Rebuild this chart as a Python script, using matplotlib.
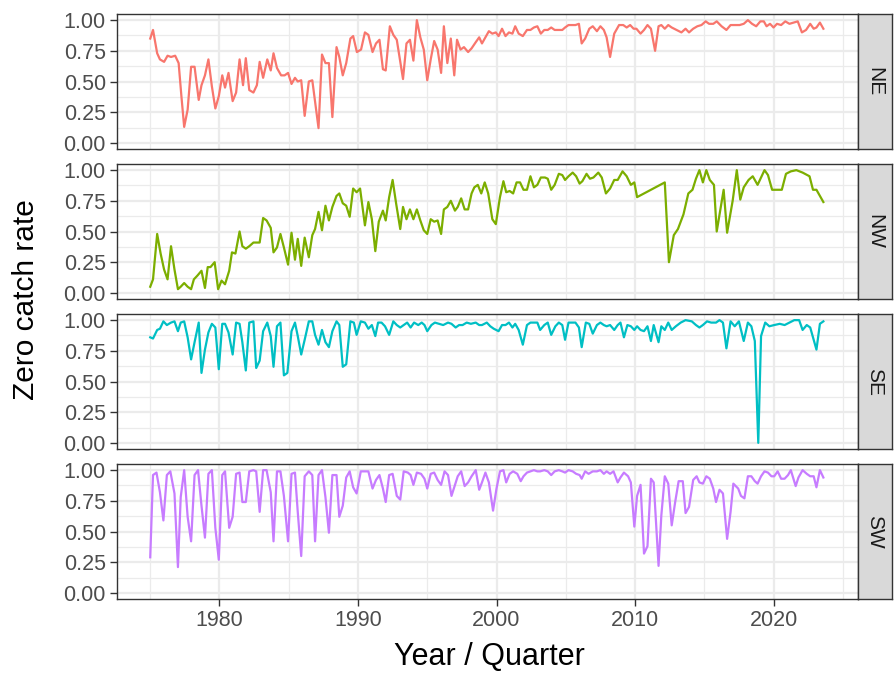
import matplotlib
matplotlib.use("Agg")
import matplotlib.pyplot as plt
import numpy as np

plt.rcParams['font.family'] = ['Liberation Sans', 'DejaVu Sans']

# Zero catch rate per quarter, one pair of lists per region
ne_year = [1975.0, 1975.2, 1975.5, 1975.7, 1976.0, 1976.25, 1976.5, 1976.8, 1977.05, 1977.25,
           1977.45, 1977.7, 1977.95, 1978.2, 1978.5, 1978.7, 1978.95, 1979.2, 1979.45, 1979.7,
           1979.95, 1980.2, 1980.4, 1980.65, 1980.95, 1981.2, 1981.45, 1981.7, 1981.9, 1982.15,
           1982.45, 1982.7, 1982.9, 1983.15, 1983.45, 1983.7, 1983.9, 1984.15, 1984.45, 1984.7,
           1984.95, 1985.2, 1985.45, 1985.65, 1985.9, 1986.15, 1986.45, 1986.7, 1987.15, 1987.4,
           1987.65, 1987.9, 1988.15, 1988.45, 1988.65, 1988.9, 1989.15, 1989.45, 1989.65, 1989.92,
           1990.22, 1990.5, 1990.75, 1991.05, 1991.3, 1991.55, 1991.8, 1992.0, 1992.3, 1992.55,
           1992.8, 1993.25, 1993.5, 1993.75, 1994.0, 1994.25, 1994.5, 1994.75, 1995.0, 1995.25,
           1995.5, 1995.75, 1996.0, 1996.2, 1996.45, 1996.7, 1996.95, 1997.15, 1997.4, 1997.65,
           1997.95, 1998.2, 1998.5, 1998.75, 1998.95, 1999.2, 1999.45, 1999.7, 1999.95, 2000.15,
           2000.4, 2000.65, 2000.9, 2001.15, 2001.35, 2001.6, 2001.9, 2002.2, 2002.45, 2002.7,
           2002.95, 2003.2, 2003.45, 2003.7, 2003.95, 2004.2, 2004.5, 2004.75, 2004.95, 2005.2,
           2005.7, 2005.95, 2006.15, 2006.4, 2006.7, 2006.95, 2007.25, 2007.5, 2007.75, 2007.95,
           2008.2, 2008.5, 2008.85, 2009.15, 2009.4, 2009.65, 2009.9, 2010.1, 2010.4, 2010.65,
           2010.9, 2011.15, 2011.45, 2011.7, 2011.9, 2012.15, 2012.4, 2012.65, 2013.0, 2013.35,
           2013.65, 2013.9, 2014.2, 2014.5, 2014.8, 2015.1, 2015.35, 2015.65, 2015.9, 2016.25,
           2016.6, 2016.9, 2017.2, 2017.55, 2017.85, 2018.15, 2018.45, 2018.75, 2019.05, 2019.3,
           2019.5, 2019.75, 2020.0, 2020.25, 2020.55, 2020.85, 2021.15, 2021.45, 2021.75, 2022.05,
           2022.35, 2022.65, 2022.9, 2023.1, 2023.35, 2023.6]
ne_rate = [0.85, 0.92, 0.73, 0.68, 0.66, 0.71, 0.70, 0.71, 0.65, 0.38,
           0.13, 0.27, 0.62, 0.62, 0.35, 0.47, 0.55, 0.68, 0.46, 0.28,
           0.38, 0.55, 0.45, 0.57, 0.34, 0.41, 0.68, 0.47, 0.69, 0.43,
           0.41, 0.47, 0.66, 0.53, 0.68, 0.59, 0.73, 0.61, 0.55, 0.55,
           0.57, 0.48, 0.53, 0.50, 0.51, 0.22, 0.50, 0.51, 0.12, 0.72,
           0.65, 0.65, 0.21, 0.78, 0.70, 0.55, 0.65, 0.85, 0.87, 0.74,
           0.76, 0.90, 0.88, 0.74, 0.81, 0.84, 0.60, 0.59, 0.95, 0.88,
           0.84, 0.52, 0.81, 0.84, 0.67, 1.00, 0.86, 0.76, 0.51, 0.68,
           0.83, 0.76, 0.57, 0.95, 0.65, 0.85, 0.55, 0.84, 0.76, 0.78,
           0.74, 0.77, 0.82, 0.86, 0.81, 0.86, 0.91, 0.89, 0.90, 0.87,
           0.93, 0.87, 0.90, 0.89, 0.95, 0.89, 0.87, 0.92, 0.92, 0.94,
           0.95, 0.89, 0.92, 0.92, 0.94, 0.92, 0.92, 0.92, 0.94, 0.96,
           0.96, 0.97, 0.81, 0.85, 0.93, 0.95, 0.91, 0.95, 0.92, 0.86,
           0.70, 0.89, 0.96, 0.96, 0.94, 0.96, 0.93, 0.93, 0.89, 0.92,
           0.96, 0.93, 0.75, 0.95, 0.96, 0.93, 0.96, 0.94, 0.92, 0.90,
           0.93, 0.90, 0.93, 0.95, 0.96, 0.99, 0.97, 0.97, 0.99, 0.95,
           0.92, 0.96, 0.96, 0.96, 0.97, 1.00, 0.97, 0.95, 0.99, 0.99,
           0.95, 0.97, 0.94, 0.97, 0.96, 0.99, 0.97, 0.98, 0.99, 0.90,
           0.92, 0.97, 0.93, 0.94, 0.98, 0.93]

nw_year = [1975.0, 1975.2, 1975.5, 1975.75, 1976.0, 1976.25, 1976.5, 1976.75, 1977.0, 1977.2,
           1977.45, 1977.7, 1977.95, 1978.15, 1978.4, 1978.7, 1978.95, 1979.15, 1979.35, 1979.65,
           1979.9, 1980.15, 1980.4, 1980.7, 1980.9, 1981.15, 1981.45, 1981.65, 1981.9, 1982.15,
           1982.45, 1982.65, 1982.9, 1983.15, 1983.4, 1983.7, 1983.9, 1984.15, 1984.4, 1984.65,
           1984.95, 1985.2, 1985.45, 1985.65, 1985.9, 1986.15, 1986.45, 1986.7, 1986.9, 1987.15,
           1987.4, 1987.65, 1987.9, 1988.15, 1988.45, 1988.65, 1988.9, 1989.15, 1989.4, 1989.65,
           1989.9, 1990.15, 1990.5, 1990.75, 1991.0, 1991.25, 1991.5, 1991.8, 1992.0, 1992.25,
           1992.5, 1992.75, 1993.05, 1993.25, 1993.5, 1993.75, 1994.0, 1994.25, 1994.5, 1994.75,
           1995.0, 1995.25, 1995.5, 1995.75, 1996.0, 1996.2, 1996.45, 1996.7, 1997.0, 1997.2,
           1997.45, 1997.7, 1997.95, 1998.2, 1998.4, 1998.65, 1998.9, 1999.15, 1999.4, 1999.7,
           1999.95, 2000.25, 2000.5, 2000.7, 2000.95, 2001.2, 2001.45, 2001.7, 2001.95, 2002.2,
           2002.45, 2002.7, 2002.95, 2003.2, 2003.5, 2003.7, 2003.95, 2004.2, 2004.5, 2004.75,
           2004.95, 2005.2, 2005.5, 2005.75, 2006.0, 2006.2, 2006.5, 2006.75, 2007.0, 2007.35,
           2007.6, 2007.9, 2008.2, 2008.5, 2008.75, 2009.1, 2009.4, 2009.7, 2009.95, 2010.15,
           2012.15, 2012.45, 2012.8, 2013.1, 2013.5, 2013.85, 2014.15, 2014.4, 2014.65, 2014.9,
           2015.15, 2015.4, 2015.7, 2015.9, 2016.4, 2016.65, 2017.05, 2017.35, 2017.6, 2017.85,
           2018.2, 2018.5, 2018.85, 2019.35, 2019.6, 2019.9, 2020.6, 2020.9, 2021.25, 2021.65,
           2022.1, 2022.6, 2022.85, 2023.1, 2023.6]
nw_rate = [0.05, 0.11, 0.48, 0.32, 0.19, 0.11, 0.38, 0.19, 0.03, 0.05,
           0.08, 0.05, 0.03, 0.11, 0.14, 0.18, 0.04, 0.21, 0.21, 0.25,
           0.03, 0.10, 0.07, 0.18, 0.33, 0.32, 0.50, 0.38, 0.36, 0.38,
           0.41, 0.41, 0.41, 0.61, 0.59, 0.53, 0.33, 0.37, 0.48, 0.37,
           0.23, 0.49, 0.27, 0.44, 0.22, 0.45, 0.29, 0.47, 0.52, 0.66,
           0.51, 0.71, 0.59, 0.70, 0.79, 0.81, 0.73, 0.71, 0.62, 0.85,
           0.82, 0.85, 0.55, 0.74, 0.60, 0.34, 0.58, 0.67, 0.59, 0.78,
           0.92, 0.73, 0.52, 0.70, 0.60, 0.68, 0.60, 0.68, 0.59, 0.51,
           0.48, 0.60, 0.58, 0.59, 0.48, 0.68, 0.70, 0.75, 0.67, 0.70,
           0.77, 0.68, 0.68, 0.81, 0.86, 0.88, 0.81, 0.90, 0.81, 0.60,
           0.56, 0.78, 0.91, 0.82, 0.83, 0.81, 0.90, 0.90, 0.84, 0.84,
           0.95, 0.86, 0.88, 0.94, 0.94, 0.93, 0.84, 0.88, 0.97, 0.96,
           0.92, 0.95, 0.98, 0.95, 0.89, 0.91, 0.97, 0.93, 0.94, 0.98,
           0.94, 0.81, 0.85, 0.92, 0.92, 0.99, 0.95, 0.88, 0.90, 0.78,
           0.90, 0.25, 0.47, 0.52, 0.64, 0.81, 0.84, 0.93, 1.00, 0.90,
           1.00, 0.92, 0.88, 0.50, 0.84, 0.49, 0.75, 1.00, 0.76, 0.86,
           0.92, 0.95, 0.88, 1.00, 0.96, 0.84, 0.84, 0.97, 0.99, 1.00,
           0.98, 0.95, 0.84, 0.84, 0.74]

se_year = [1975.0, 1975.2, 1975.5, 1975.7, 1975.95, 1976.2, 1976.5, 1976.75, 1977.0, 1977.2,
           1977.45, 1977.7, 1977.95, 1978.2, 1978.5, 1978.7, 1978.95, 1979.2, 1979.45, 1979.7,
           1979.95, 1980.2, 1980.4, 1980.65, 1980.95, 1981.2, 1981.45, 1981.65, 1981.9, 1982.15,
           1982.45, 1982.65, 1982.9, 1983.15, 1983.45, 1983.7, 1983.9, 1984.15, 1984.4, 1984.65,
           1984.9, 1985.2, 1985.45, 1985.65, 1985.9, 1986.15, 1986.45, 1986.7, 1986.9, 1987.15,
           1987.4, 1987.65, 1987.9, 1988.15, 1988.45, 1988.65, 1988.9, 1989.15, 1989.45, 1989.7,
           1989.9, 1990.2, 1990.5, 1990.75, 1991.0, 1991.25, 1991.45, 1991.7, 1991.95, 1992.25,
           1992.55, 1992.8, 1993.05, 1993.3, 1993.55, 1993.8, 1994.05, 1994.35, 1994.6, 1994.8,
           1995.0, 1995.3, 1995.55, 1995.85, 1996.15, 1996.5, 1996.75, 1997.05, 1997.3, 1997.55,
           1997.85, 1998.15, 1998.5, 1998.75, 1998.95, 1999.3, 1999.55, 1999.8, 2000.15, 2000.4,
           2000.65, 2000.9, 2001.15, 2001.35, 2001.6, 2001.9, 2002.2, 2002.45, 2002.7, 2002.95,
           2003.15, 2003.45, 2003.7, 2003.95, 2004.25, 2004.5, 2004.75, 2004.95, 2005.2, 2005.45,
           2005.7, 2005.95, 2006.15, 2006.45, 2006.7, 2006.95, 2007.25, 2007.5, 2007.75, 2007.95,
           2008.2, 2008.5, 2008.75, 2008.95, 2009.2, 2009.45, 2009.7, 2009.95, 2010.15, 2010.4,
           2010.65, 2010.9, 2011.15, 2011.35, 2011.7, 2011.9, 2012.15, 2012.4, 2012.65, 2012.95,
           2013.3, 2013.65, 2014.1, 2014.4, 2014.65, 2014.9, 2015.2, 2015.5, 2015.85, 2016.1,
           2016.35, 2016.6, 2016.9, 2017.2, 2017.5, 2017.85, 2018.15, 2018.4, 2018.65, 2018.9,
           2019.1, 2019.4, 2019.7, 2020.05, 2020.45, 2020.8, 2021.15, 2021.5, 2021.85, 2022.1,
           2022.4, 2022.65, 2022.9, 2023.1, 2023.35, 2023.6]
se_rate = [0.86, 0.85, 0.92, 0.93, 0.99, 0.96, 0.98, 0.99, 0.91, 0.98,
           0.99, 0.86, 0.68, 0.82, 0.98, 0.57, 0.76, 0.90, 0.97, 0.94,
           0.60, 0.97, 0.97, 0.90, 0.72, 0.98, 0.97, 0.82, 0.59, 0.98,
           0.99, 0.61, 0.67, 0.91, 0.98, 0.87, 0.62, 0.95, 0.98, 0.55,
           0.57, 0.91, 0.98, 0.87, 0.72, 0.84, 0.99, 0.99, 0.88, 0.80,
           0.92, 0.82, 0.78, 0.91, 0.99, 0.96, 0.62, 0.64, 0.99, 0.98,
           0.88, 0.99, 0.98, 0.93, 0.96, 0.87, 0.98, 0.98, 0.95, 0.88,
           0.99, 0.96, 0.94, 0.96, 0.98, 0.94, 0.98, 0.96, 0.98, 0.96,
           0.91, 0.96, 0.98, 0.97, 0.96, 0.98, 0.97, 0.94, 0.96, 0.96,
           0.98, 0.97, 0.98, 0.96, 0.96, 0.98, 0.95, 0.93, 0.91, 0.96,
           0.96, 0.98, 0.94, 0.97, 0.92, 0.80, 0.96, 0.98, 0.98, 0.98,
           0.92, 0.96, 0.98, 0.88, 0.95, 0.98, 0.96, 0.84, 0.98, 0.98,
           0.98, 0.94, 0.78, 0.98, 0.97, 0.89, 0.96, 0.98, 0.96, 0.95,
           0.96, 0.92, 0.96, 0.98, 0.86, 0.96, 0.95, 0.92, 0.95, 0.92,
           0.91, 0.95, 0.83, 0.96, 0.82, 0.95, 0.92, 0.98, 0.92, 0.95,
           0.98, 1.00, 0.99, 0.96, 0.94, 0.96, 0.99, 0.98, 0.98, 1.00,
           0.98, 0.77, 0.99, 0.95, 0.99, 0.83, 0.98, 0.95, 0.83, 0.00,
           0.87, 0.98, 0.95, 0.96, 0.97, 0.96, 0.98, 1.00, 1.00, 0.92,
           0.96, 0.94, 0.84, 0.76, 0.97, 0.99]

sw_year = [1975.0, 1975.2, 1975.45, 1975.7, 1975.95, 1976.2, 1976.45, 1976.75, 1977.0, 1977.2,
           1977.45, 1977.7, 1977.95, 1978.2, 1978.45, 1978.7, 1978.95, 1979.2, 1979.45, 1979.7,
           1979.95, 1980.2, 1980.4, 1980.7, 1980.95, 1981.2, 1981.45, 1981.65, 1981.9, 1982.15,
           1982.45, 1982.65, 1982.9, 1983.15, 1983.4, 1983.7, 1983.9, 1984.15, 1984.4, 1984.65,
           1984.95, 1985.2, 1985.45, 1985.65, 1985.9, 1986.15, 1986.45, 1986.7, 1986.9, 1987.15,
           1987.4, 1987.65, 1987.9, 1988.15, 1988.45, 1988.65, 1988.9, 1989.15, 1989.4, 1989.65,
           1989.9, 1990.2, 1990.45, 1990.75, 1991.05, 1991.3, 1991.55, 1991.8, 1992.0, 1992.25,
           1992.5, 1992.8, 1993.05, 1993.3, 1993.6, 1993.8, 1994.0, 1994.25, 1994.55, 1994.8,
           1995.0, 1995.25, 1995.5, 1995.75, 1996.0, 1996.25, 1996.5, 1996.75, 1997.0, 1997.2,
           1997.45, 1997.7, 1997.95, 1998.2, 1998.5, 1998.75, 1998.95, 1999.2, 1999.45, 1999.75,
           2000.0, 2000.25, 2000.5, 2000.7, 2000.95, 2001.2, 2001.5, 2001.75, 2001.95, 2002.2,
           2002.45, 2002.7, 2002.95, 2003.15, 2003.45, 2003.7, 2003.95, 2004.2, 2004.5, 2004.75,
           2004.95, 2005.2, 2005.5, 2005.75, 2006.0, 2006.15, 2006.4, 2006.65, 2006.95, 2007.25,
           2007.5, 2007.75, 2007.95, 2008.2, 2008.45, 2008.75, 2008.95, 2009.2, 2009.5, 2009.7,
           2009.95, 2010.15, 2010.4, 2010.65, 2010.9, 2011.15, 2011.35, 2011.7, 2011.9, 2012.15,
           2012.4, 2012.65, 2012.9, 2013.15, 2013.45, 2013.65, 2013.9, 2014.2, 2014.45, 2014.65,
           2014.9, 2015.15, 2015.4, 2015.65, 2015.85, 2016.1, 2016.35, 2016.65, 2016.9, 2017.1,
           2017.45, 2017.65, 2017.9, 2018.15, 2018.4, 2018.65, 2018.85, 2019.1, 2019.35, 2019.6,
           2019.85, 2020.05, 2020.3, 2020.55, 2020.8, 2021.05, 2021.25, 2021.6, 2021.8, 2022.1,
           2022.4, 2022.65, 2022.9, 2023.1, 2023.35, 2023.6]
sw_rate = [0.29, 0.96, 0.98, 0.82, 0.59, 0.96, 0.99, 0.81, 0.21, 0.78,
           1.00, 0.62, 0.42, 0.96, 1.00, 0.71, 0.45, 0.97, 1.00, 0.53,
           0.27, 0.96, 0.99, 0.53, 0.62, 0.97, 0.98, 0.74, 0.74, 0.99,
           1.00, 0.99, 0.66, 1.00, 1.00, 0.82, 0.42, 0.99, 0.99, 0.79,
           0.42, 0.97, 0.98, 0.66, 0.30, 0.95, 0.99, 0.96, 0.42, 0.96,
           1.00, 0.78, 0.49, 0.96, 0.96, 0.62, 0.71, 0.94, 0.99, 0.86,
           0.81, 0.99, 0.99, 0.99, 0.85, 0.92, 0.96, 0.85, 0.74, 0.96,
           0.97, 0.79, 0.76, 0.99, 0.98, 0.96, 0.88, 0.98, 0.97, 0.93,
           0.85, 0.97, 0.98, 0.92, 0.88, 0.99, 0.96, 0.79, 0.88, 0.95,
           0.99, 0.87, 0.90, 0.95, 1.00, 0.84, 0.90, 0.98, 0.90, 0.67,
           0.85, 0.99, 1.00, 0.90, 0.97, 0.99, 0.97, 0.91, 0.95, 0.98,
           0.99, 1.00, 0.99, 0.99, 1.00, 0.99, 0.96, 0.99, 1.00, 0.99,
           0.98, 1.00, 0.99, 0.97, 0.96, 0.93, 0.99, 0.97, 0.99, 0.99,
           1.00, 0.97, 0.99, 0.97, 0.99, 0.90, 0.94, 0.98, 0.95, 0.90,
           0.54, 0.79, 0.88, 0.32, 0.38, 0.93, 0.90, 0.22, 0.63, 0.95,
           0.89, 0.55, 0.74, 0.91, 0.91, 0.65, 0.70, 0.92, 0.95, 0.90,
           0.89, 0.95, 0.93, 0.85, 0.74, 0.84, 0.81, 0.44, 0.66, 0.89,
           0.85, 0.79, 0.77, 0.95, 0.95, 0.91, 0.89, 0.95, 0.99, 0.98,
           0.95, 0.95, 0.99, 0.93, 0.93, 0.96, 1.00, 0.87, 0.94, 1.00,
           0.97, 0.95, 0.95, 0.86, 1.00, 0.94]

regions = ['NE', 'NW', 'SE', 'SW']
series = [(ne_year, ne_rate), (nw_year, nw_rate), (se_year, se_rate), (sw_year, sw_rate)]
colours = ['#F8766D', '#7CAE00', '#00BFC4', '#C77CFF']

W, H = 894, 675
fig = plt.figure(figsize=(W / 100, H / 100), dpi=100)

# panel geometry in pixels (theme_bw style facet_grid)
left, right = 117, 858
strip_w = 34
panel_h = 135
tops = [14, 164, 314, 464]

grid_col = '#EBEBEB'
frame_col = '#333333'

for i, (name, (yr, rate), col) in enumerate(zip(regions, series, colours)):
    bottom = 1 - (tops[i] + panel_h) / H
    ax = fig.add_axes([left / W, bottom, (right - left) / W, panel_h / H])
    ax.set_xlim(1972.6, 2026.1)
    ax.set_ylim(-0.05, 1.05)

    ax.set_yticks([0, 0.25, 0.5, 0.75, 1.0])
    ax.set_yticklabels(['0.00', '0.25', '0.50', '0.75', '1.00'])
    ax.set_yticks([0.125, 0.375, 0.625, 0.875], minor=True)
    ax.set_xticks([1980, 1990, 2000, 2010, 2020])
    ax.set_xticks([1975, 1985, 1995, 2005, 2015, 2025], minor=True)

    ax.grid(which='major', color=grid_col, linewidth=1.6)
    ax.grid(which='minor', color=grid_col, linewidth=0.9)
    ax.set_axisbelow(True)

    ax.plot(yr, rate, color=col, linewidth=1.6, solid_joinstyle='round')

    for s in ax.spines.values():
        s.set_color(frame_col)
        s.set_linewidth(1.0)

    ax.tick_params(axis='y', which='major', length=5, width=1.0, color=frame_col,
                   labelsize=15.5, labelcolor='#4D4D4D', pad=3)
    ax.tick_params(which='minor', length=0)
    if i < 3:
        ax.tick_params(axis='x', which='major', length=0, labelbottom=False)
    else:
        ax.tick_params(axis='x', which='major', length=5, width=1.0, color=frame_col,
                       labelsize=15.5, labelcolor='#4D4D4D', pad=3)

    # facet strip on the right
    sax = fig.add_axes([right / W, bottom, strip_w / W, panel_h / H])
    sax.set_facecolor('#D9D9D9')
    sax.set_xticks([])
    sax.set_yticks([])
    for s in sax.spines.values():
        s.set_color(frame_col)
        s.set_linewidth(1.0)
    sax.text(0.5, 0.5, name, rotation=-90, ha='center', va='center',
             fontsize=15, color='#1A1A1A', transform=sax.transAxes)

fig.text(26 / W, 1 - 300 / H, 'Zero catch rate', rotation=90, ha='center', va='center',
         fontsize=21.5, color='black')
fig.text(489 / W, 1 - 657 / H, 'Year / Quarter', ha='center', va='center',
         fontsize=22, color='black')

fig.savefig('out.png', dpi=100)
